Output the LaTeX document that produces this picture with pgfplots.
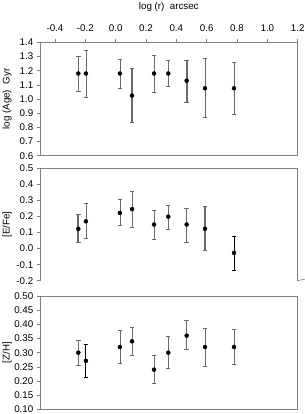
\documentclass[border=0pt]{standalone}
\usepackage{fontspec}
\setmainfont{Liberation Sans}
\usepackage{pgfplots}
\pgfplotsset{compat=1.18}
\definecolor{axgray}{HTML}{808080}
\definecolor{bargray}{HTML}{6A6A6A}
\pgfplotsset{
  panel/.style={
    scale only axis, width=257.9bp, xmin=-0.5, xmax=1.2,
    anchor=north west, clip=false,
    tick align=outside, major tick length=3bp,
    tick style={axgray, line width=0.5pt},
    axis line style={axgray, line width=0.6pt},
    every tick label/.append style={font=\fontsize{9.8}{12}\selectfont, black},
    /pgf/number format/assume math mode=true,
    /pgf/number format/fixed, /pgf/number format/fixed zerofill,
    /pgf/number format/precision=1,
    every axis y label/.style={at={(axis description cs:-0.127,0.5)}, rotate=90, anchor=center, font=\fontsize{9.8}{12}\selectfont},
    every axis x label/.style={at={(axis description cs:0.5,1.309)}, anchor=center, font=\fontsize{9.8}{12}\selectfont},
    ytick pos=left,
  },
  pts/.style={only marks, mark=*, mark size=2bp, mark options={fill=black, draw=black},
    error bars/y dir=both, error bars/y explicit,
    error bars/error mark options={rotate=90, mark size=2.2bp, line width=0.7pt, bargray},
    error bars/error bar style={line width=0.8pt, bargray}},
  thick bars/.style={error bars/error bar style={line width=2pt, bargray}},
  black bars/.style={error bars/error bar style={line width=0.9pt, black},
    error bars/error mark options={rotate=90, mark size=2.2bp, line width=0.8pt, black}},
}
\begin{document}
\begin{tikzpicture}
\useasboundingbox (0,0) rectangle (305bp,-414bp);
% ---------- top panel: log(Age)
\begin{axis}[panel, at={(39.8bp,-42.3bp)}, height=113.4bp,
  ymin=0.6, ymax=1.4, ytick={0.6,0.7,...,1.41},
  xtick={-0.4,-0.2,0,0.2,0.4,0.6,0.8,1.0,1.2},
  xtick pos=right, xticklabel pos=right,
  xticklabel style={yshift=4bp},
  xlabel={log (r)\ \ arcsec}, ylabel={log (Age)\ \ Gyr}]
\addplot[pts] table[x=x, y=y, y error plus=ep, y error minus=em] {
x y ep em
-0.246 1.180 0.120 0.125
-0.196 1.180 0.163 0.168
0.028 1.180 0.099 0.106
0.253 1.180 0.127 0.130
0.347 1.180 0.091 0.094
0.589 1.076 0.210 0.207
0.780 1.076 0.181 0.183
};
\addplot[pts, thick bars] table[x=x, y=y, y error plus=ep, y error minus=em] {
x y ep em
0.108 1.024 0.190 0.188
0.468 1.129 0.147 0.150
};
\end{axis}
% ---------- middle panel: [E/Fe]
\begin{axis}[panel, at={(39.8bp,-168.3bp)}, height=112.4bp,
  ymin=-0.2, ymax=0.5, ytick={-0.2,-0.1,...,0.51},
  axis x line*=top, axis y line*=box,
  x axis line style={-}, y axis line style={-},
  xtick=\empty, ytick pos=left,
  ylabel={[E/Fe]}]
\addplot[pts] table[x=x, y=y, y error plus=ep, y error minus=em] {
x y ep em
-0.196 0.170 0.109 0.104
0.028 0.222 0.084 0.080
0.108 0.246 0.113 0.113
0.253 0.150 0.090 0.095
0.347 0.199 0.072 0.078
0.468 0.150 0.098 0.109
};
\addplot[pts, thick bars] table[x=x, y=y, y error plus=ep, y error minus=em] {
x y ep em
-0.246 0.123 0.089 0.086
0.589 0.123 0.140 0.137
};
\addplot[pts, black bars] table[x=x, y=y, y error plus=ep, y error minus=em] {
x y ep em
0.780 -0.027 0.103 0.106
};
\draw[axgray, line width=0.6pt] (rel axis cs:1,0) -- ++(0,-15.4bp);
\end{axis}
% ---------- bottom panel: [Z/H]
\begin{axis}[panel, at={(39.8bp,-296bp)}, height=113.3bp,
  ymin=0.1, ymax=0.5, ytick={0.10,0.15,...,0.51},
  /pgf/number format/precision=2,
  xtick=\empty,
  ylabel={[Z/H]}]
\addplot[pts] table[x=x, y=y, y error plus=ep, y error minus=em] {
x y ep em
-0.246 0.300 0.044 0.045
0.028 0.320 0.059 0.058
0.108 0.340 0.048 0.048
0.253 0.240 0.049 0.048
0.347 0.300 0.056 0.056
0.468 0.360 0.053 0.049
0.589 0.320 0.066 0.067
0.780 0.320 0.061 0.061
};
\addplot[pts, black bars] table[x=x, y=y, y error plus=ep, y error minus=em] {
x y ep em
-0.196 0.271 0.058 0.059
};
\end{axis}
\end{tikzpicture}
\end{document}
